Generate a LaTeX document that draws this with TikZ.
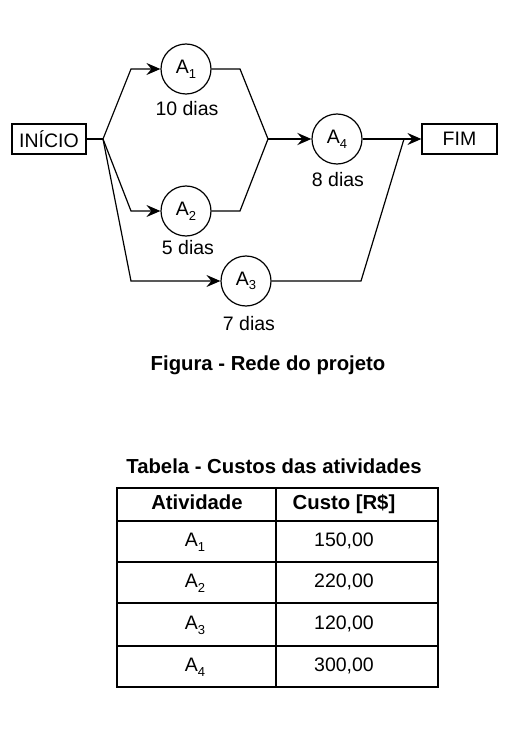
\documentclass[tikz,border=0pt]{standalone}
\usepackage{fontspec}
\setmainfont{Liberation Sans}
\usetikzlibrary{arrows.meta}

\newcommand{\atvsub}[1]{A\raisebox{-0.45ex}{\fontsize{13}{14}\selectfont #1}}

\tikzset{
  caixa/.style={draw, line width=1.2pt, minimum height=30pt, inner sep=0pt},
  atv/.style={draw, circle, line width=1.2pt, minimum size=50pt, inner sep=0pt},
  seta/.style={->, line width=1.2pt},
  rotulo/.style={font=\fontsize{19.5}{22}\selectfont},
  titulo/.style={font=\fontsize{20.3}{23}\selectfont\bfseries},
  celula/.style={text height=14pt, text depth=4pt},
}

\begin{document}
\begin{tikzpicture}[x=1pt, y=-1pt,
    >={Stealth[length=14pt, width=12pt, inset=5pt]},
    every node/.style={font=\fontsize{19.5}{22}\selectfont}]
\useasboundingbox (0,0) rectangle (522,738);

% --- rede do projeto ---
\node[caixa, minimum width=74pt] (inicio) at (49,139) {INÍCIO};
\node[caixa, minimum width=75pt] (fim) at (459.5,139) {FIM};

\node[atv] (a1) at (186,69)  {\atvsub{1}};
\node[atv] (a2) at (186,211) {\atvsub{2}};
\node[atv] (a3) at (246,281) {\atvsub{3}};
\node[atv] (a4) at (337,139) {\atvsub{4}};

\node[rotulo] (d1) at (187,109) {10 dias};
\node[rotulo] (d2) at (188,248) {5 dias};
\node[rotulo] (d3) at (249,324) {7 dias};
\node[rotulo] (d4) at (338,180) {8 dias};

% pontos de desvio
\coordinate (j)  at (103,139);
\coordinate (k)  at (268,139);
\coordinate (m)  at (404,139);
\coordinate (c1) at (131,69);
\coordinate (c2) at (131,211);
\coordinate (c3) at (131,281);
\coordinate (e1) at (240,69);
\coordinate (e2) at (240,211);
\coordinate (e3) at (361,281);

\draw[line width=1.2pt] (inicio) -- (j);
\draw[seta] (j) -- (c1) -- (a1);
\draw[seta] (j) -- (c2) -- (a2);
\draw[seta] (j) -- (c3) -- (a3);

\draw[line width=1.2pt] (a1) -- (e1) -- (k);
\draw[line width=1.2pt] (a2) -- (e2) -- (k);
\draw[->, line width=2.6pt] (k) -- (a4);

\draw[seta] (a4) -- (fim);
\draw[line width=1.2pt] (a3) -- (e3) -- (m);

\node[titulo] (fig) at (268,365) {Figura - Rede do projeto};

% --- tabela de custos ---
\node[titulo] (tab) at (274,466) {Tabela - Custos das atividades};

\draw[line width=1.2pt] (117,488) rectangle (438,687);
\draw[line width=1.2pt] (276,488) -- (276,687);
\foreach \y in {521,562,603,646}
  \draw[line width=1.2pt] (117,\y) -- (438,\y);

\node[titulo, celula] (hatv) at (197,504.5) {Atividade};
\node[titulo, celula] (hcst) at (344,504.5) {Custo [R\$]};

\foreach \n/\c/\y in {1/{150,00}/541.5, 2/{220,00}/582.5, 3/{120,00}/624.5, 4/{300,00}/666.5}{
  \node[celula] (t\n) at (195,\y) {\atvsub{\n}};
  \node[celula] (v\n) at (344,\y) {\c};
}

\end{tikzpicture}
\end{document}
